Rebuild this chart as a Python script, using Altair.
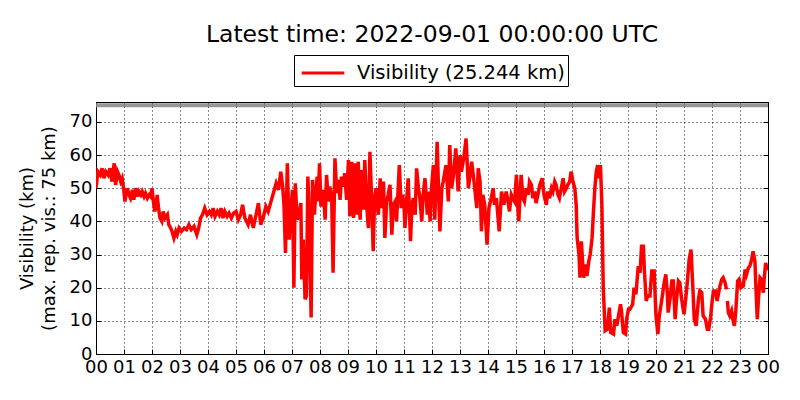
import altair as alt
import pandas as pd

TITLE = "Latest time: 2022-09-01 00:00:00 UTC"
SERIES = "Visibility (25.244 km)"
Y_TITLE = ["Visibility (km)", "(max. rep. vis.: 75 km)"]
MAX_VIS = 75
HOUR_TICKS = list(range(0, 25))
Y_TICKS = [0, 10, 20, 30, 40, 50, 60, 70]

# (minutes after 00:00 UTC, visibility km)
seg_00_04 = [(0, 50), (4, 55), (9, 54), (13, 56), (17, 53), (21, 55), (26, 54), (30, 56), (34, 52),
             (39, 57.5), (42, 51), (46, 55), (49, 54), (53, 52), (56, 53), (60, 49), (62, 46), (67, 50),
             (71, 48), (74, 47), (78, 49.5), (81, 46.5), (85, 50), (89, 47.5), (92, 49), (96, 48),
             (99, 49), (103, 47.5), (106, 48.5), (110, 47), (114, 48), (117, 47.5), (120, 50), (123, 46),
             (126, 43), (129, 45), (131, 48), (134, 44), (137, 41), (141, 40), (144, 43), (148, 41),
             (153, 42), (156, 39), (160, 38), (164, 36.5), (167, 35), (171, 37), (174, 36), (178, 38),
             (183, 37), (189, 38), (194, 37.5), (199, 39), (204, 37.5), (210, 38.5), (216, 36), (220, 38),
             (224, 41), (228, 42), (233, 44), (238, 42)]
seg_04_09 = [(243, 43), (247, 42), (251, 44), (255, 41.5), (260, 43), (264, 42), (268, 44), (272, 41),
             (276, 43), (281, 41.5), (285, 42.5), (290, 41), (295, 42.5), (300, 43), (305, 40.5), (310, 42),
             (314, 45), (319, 41), (326, 39), (331, 42), (337, 38), (343, 42), (348, 45.5), (353, 39),
             (359, 41.5), (364, 44.5), (369, 43), (374, 45.5), (380, 48.5), (386, 51.5), (391, 49.5),
             (396, 55), (400, 50.5), (403, 44.5), (406, 30.5), (410, 57.5), (414, 34.5), (417, 42.5),
             (421, 49.5), (424, 20), (427, 51.5), (431, 40.5), (435, 42), (439, 45.5), (441, 22.5),
             (444, 34.5), (448, 16.5), (451, 17.5), (454, 53.5), (457, 41.5), (461, 11), (464, 52.5),
             (468, 42), (471, 48.5), (474, 53.5), (476, 46), (479, 57.5), (482, 44.5), (487, 49.5),
             (491, 40.5), (494, 54), (498, 46), (501, 50.5), (505, 47.5), (508, 24.5), (512, 59),
             (516, 48.5), (519, 52.5), (523, 46.5), (526, 53.5), (530, 50.5), (533, 54.5), (537, 46.5),
             (541, 58.5), (544, 41.5), (548, 58), (552, 41), (555, 57.5), (558, 42), (562, 58), (566, 40.5),
             (569, 55.5), (573, 43.5), (576, 58.5), (580, 45), (583, 39)]
seg_09_13 = [(584, 38), (587, 61), (591, 45), (594, 31), (597, 47), (600, 50), (605, 42), (609, 53),
             (612, 44), (616, 52), (619, 35), (623, 46), (626, 48), (630, 51), (634, 36), (637, 45),
             (641, 46), (644, 40), (650, 57), (654, 44), (657, 48), (660, 45), (662, 38), (666, 47),
             (669, 53), (674, 34), (677, 45), (680, 47), (684, 42), (687, 56), (691, 50), (694, 47),
             (698, 40), (701, 48), (705, 53), (710, 42), (713, 49), (716, 40), (719, 50), (723, 57),
             (726, 40.5), (731, 64), (735, 45), (737, 37), (741, 50), (744, 52), (750, 57), (755, 46),
             (758, 63), (762, 50), (766, 54), (771, 62), (776, 49), (780, 60), (783, 55), (788, 59),
             (793, 65), (798, 50), (805, 58), (810, 52), (816, 44), (819, 56), (823, 52)]
seg_13_18 = [(826, 37), (829, 48), (833, 45), (838, 33), (842, 44), (847, 47), (851, 50), (854, 45),
             (858, 47), (864, 37), (869, 49), (874, 45), (879, 49), (883, 46), (886, 43), (890, 48),
             (893, 47), (897, 46), (901, 54), (904, 44), (906, 40), (909, 49), (911, 54), (915, 47),
             (918, 46), (922, 50), (926, 48), (929, 52), (933, 51), (936, 47), (940, 49), (943, 45.5),
             (947, 48), (951, 51), (956, 53), (960, 48), (965, 45), (968, 49), (972, 47), (976, 50),
             (979, 49), (983, 52), (986, 51), (990, 48), (993, 47), (997, 50), (1001, 53), (1004, 49),
             (1008, 50), (1011, 51), (1015, 52), (1018, 55), (1022, 52), (1026, 50), (1029, 45), (1031, 35),
             (1035, 30), (1037, 23), (1040, 34), (1043, 27), (1045, 23), (1049, 27), (1052, 23.5),
             (1056, 28), (1059, 30), (1063, 35), (1066, 43), (1069, 50), (1072, 55), (1075, 57),
             (1078, 53), (1081, 57)]
seg_18_2230 = [(1084, 45), (1087, 20), (1091, 7), (1096, 7.5), (1100, 14), (1103, 6.5), (1109, 6),
               (1112, 10.5), (1116, 8.5), (1119, 11), (1124, 15), (1126, 13), (1130, 6.5), (1135, 6),
               (1137, 10.5), (1141, 13.5), (1144, 13.5), (1150, 15), (1153, 20), (1157, 18), (1162, 26.5),
               (1166, 24.5), (1169, 32.5), (1173, 32.5), (1175, 25.5), (1179, 16), (1182, 17.5),
               (1187, 17.5), (1191, 25), (1196, 25), (1200, 11.5), (1204, 6), (1207, 11.5), (1212, 16),
               (1217, 21), (1221, 24), (1224, 19), (1226, 12.5), (1230, 16.5), (1234, 22), (1237, 22),
               (1241, 10.5), (1244, 16.5), (1248, 22), (1251, 21.5), (1255, 16.5), (1260, 12), (1264, 17),
               (1267, 21.5), (1271, 28.5), (1275, 31.5), (1279, 20), (1282, 10.5), (1286, 8.5),
               (1291, 16.5), (1294, 19), (1298, 18.5), (1301, 11.5), (1306, 10.5), (1310, 7.5),
               (1313, 7.5), (1317, 11), (1320, 15.5), (1323, 19), (1328, 19), (1331, 16), (1337, 20.5),
               (1341, 22.5), (1344, 23), (1348, 21.5), (1351, 19.5)]
seg_2230_24 = [(1353, 16), (1355, 12.5), (1358, 11.5), (1362, 13), (1366, 9.5), (1368, 8.5), (1371, 13),
               (1375, 22), (1378, 22.5), (1382, 20), (1387, 20.5), (1391, 25.5), (1394, 24), (1398, 26),
               (1401, 26.5), (1405, 28.5), (1408, 31), (1412, 28), (1414, 20.5), (1417, 10.5),
               (1420, 17.5), (1423, 23), (1426, 22.5), (1430, 18.5), (1432, 23), (1435, 27.5),
               (1439, 25.244)]

rows = []
for seg_id, seg in [("a", seg_00_04), ("a", seg_04_09), ("a", seg_09_13), ("a", seg_13_18),
                    ("a", seg_18_2230), ("b", seg_2230_24)]:
    for m, v in seg:
        rows.append({"hour": m / 60.0, "vis": v, "seg": seg_id, "series": SERIES})
df = pd.DataFrame(rows)
limit_df = pd.DataFrame([{"x0": 0, "x1": 24, "lim": MAX_VIS}])

FONT = "DejaVu Sans"
x_scale = alt.Scale(domain=[0, 24], nice=False, zero=False)
y_scale = alt.Scale(domain=[0, 76], nice=False, zero=True)
label_expr = "(datum.value % 24 < 10 ? '0' : '') + (datum.value % 24)"
inward = alt.ExprRef(expr="-5")

line = alt.Chart(df).mark_line(strokeWidth=3.5, clip=True).encode(
    x=alt.X("hour:Q", scale=x_scale,
            axis=alt.Axis(orient="bottom", values=HOUR_TICKS, labelExpr=label_expr, title=None,
                          grid=True, tickSize=inward, labelPadding=9, labelOverlap=False,
                          labelFlush=False, labelBound=False)),
    y=alt.Y("vis:Q", scale=y_scale,
            axis=alt.Axis(orient="left", values=Y_TICKS, title=Y_TITLE, grid=True, tickSize=inward,
                          labelPadding=9, titlePadding=11, titleFontSize=18, titleFont=FONT,
                          titleFontWeight="normal", titleLineHeight=22, titleColor="black")),
    color=alt.Color("series:N", scale=alt.Scale(range=["#ff0000"]),
                    legend=alt.Legend(title=None, orient="none", legendX=198, legendY=-47,
                                      symbolType="M-1.58,0H1.58", symbolStrokeWidth=3, symbolSize=729,
                                      symbolOffset=11, labelOffset=19, labelLimit=400,
                                      labelFontSize=19.5, labelFont=FONT, labelColor="black",
                                      strokeColor="black", padding=3, fillColor="white",
                                      cornerRadius=0)),
    detail="seg:N",
)

limit = alt.Chart(limit_df).mark_rule(color="#8c8c8c", strokeWidth=4, opacity=0.9).encode(
    x=alt.X("x0:Q", scale=x_scale,
            axis=alt.Axis(orient="top", values=HOUR_TICKS, labels=False, title=None, grid=False,
                          tickSize=inward)),
    x2="x1:Q",
    y=alt.Y("lim:Q", scale=y_scale,
            axis=alt.Axis(orient="right", values=Y_TICKS, labels=False, title=None, grid=False,
                          tickSize=inward)),
)

chart = alt.layer(limit, line).resolve_axis(x="independent", y="independent").properties(
    width=672, height=252,
    title=alt.TitleParams(TITLE, fontSize=23.5, font=FONT, fontWeight="normal", color="black",
                          anchor="middle", offset=8),
    autosize=alt.AutoSizeParams(type="none"),
    padding={"left": 88, "top": 94, "right": 24, "bottom": 38},
).configure_view(stroke="black", strokeWidth=1).configure_axis(
    labelFont=FONT, labelFontSize=18, labelColor="black", tickColor="black", tickWidth=1,
    domainColor="black", domainWidth=1, gridColor="black", gridDash=[1, 3], gridWidth=1,
    gridOpacity=0.9,
)

chart.save("out.html", embed_options={"renderer": "svg", "actions": False})
